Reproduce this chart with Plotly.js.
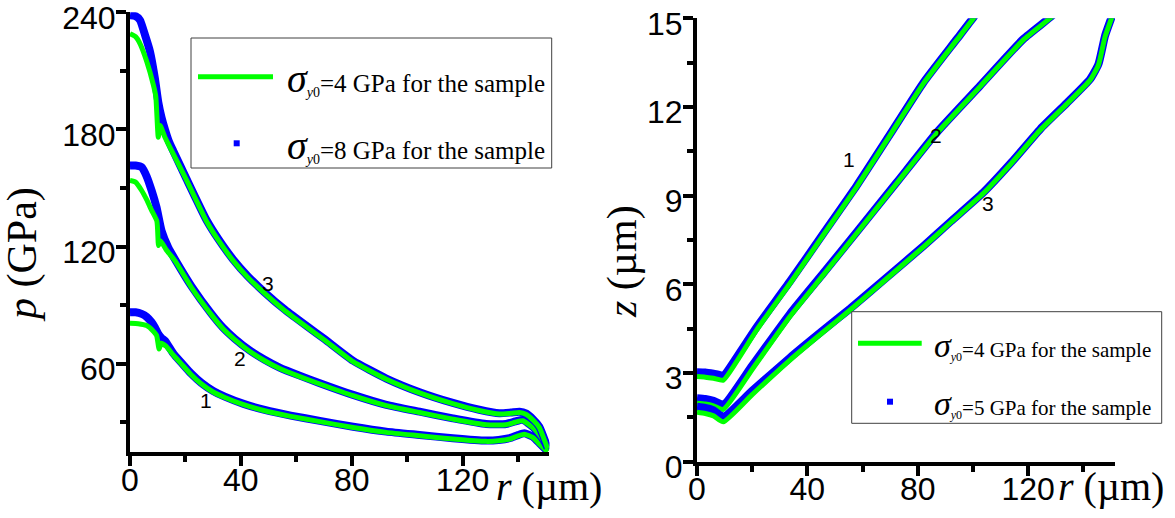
<!DOCTYPE html>
<html><head><meta charset="utf-8">
<script src="https://cdn.plot.ly/plotly-3.0.1.min.js"></script>
<style>html,body{margin:0;padding:0;background:#fff;}#chart{width:1175px;height:518px;}</style>
</head><body><div id="chart"></div>
<script>
// ---------- Left panel: p (GPa) vs r (µm) ----------
// curve 1, σy0 = 4 GPa (green line)
const L1_r4 = [0, 3, 6, 8.5, 9.6, 10.5, 11.3, 13, 15.6, 18.6, 22, 25.8, 30, 34.2, 41, 48.6, 58, 68.5, 80.5, 92.5, 104.5, 116.5, 128.5, 133, 137, 140, 142.3, 145.3, 148, 150.7];
const L1_p4 = [80.7, 80.5, 79.5, 76.5, 74.5, 67.5, 70.5, 69, 64.5, 59.8, 54.5, 49.6, 45.5, 42.7, 39, 35.9, 33, 30.3, 27.3, 24.8, 23.1, 21.4, 20.2, 20.5, 21.4, 23, 23.9, 22.2, 18.5, 14.8];
// curve 1, σy0 = 8 GPa (blue dots)
const L1_r8 = [0, 2, 4.2, 6, 7.8, 9, 10.2, 11.5, 12.6, 15.6, 18.6, 22, 25.8, 30, 34.2, 41, 48.6, 58, 68.5, 80.5, 92.5, 104.5, 116.5, 128.5, 133, 137, 140, 142.3, 145.3, 148, 150.7];
const L1_p8 = [86.3, 86.3, 85.5, 84, 81.2, 78.5, 75.2, 73, 71.8, 65.3, 60.4, 55, 50.1, 46, 43.1, 39.4, 36.3, 33.4, 30.7, 27.7, 25.2, 23.5, 21.8, 20.6, 20.9, 21.8, 23.4, 24.3, 22.6, 18.9, 15.1];
// curve 2
const L2_r4 = [0, 2, 4.2, 6, 7.8, 9.7, 10.3, 11, 13, 16.2, 22.2, 29.4, 33.5, 37.8, 43, 48.6, 54, 61, 68.5, 80.5, 92.5, 104.5, 116.5, 128.5, 135.7, 139, 141.7, 145.3, 148.5, 150.7];
const L2_p4 = [153.8, 153, 148.7, 144, 138.5, 133, 120.5, 123, 118.5, 112.8, 99, 85, 78, 72.3, 66.5, 61.5, 57.5, 53.5, 49.6, 43.6, 38.5, 35, 31.6, 28.7, 28.7, 30, 30.8, 27.3, 22, 17];
const L2_r8 = [0, 2, 4.2, 6, 7.8, 9.6, 11.4, 13.8, 16.2, 22.2, 29.4, 33.5, 37.8, 43, 48.6, 54, 61, 68.5, 80.5, 92.5, 104.5, 116.5, 128.5, 135.7, 139, 141.7, 145.3, 148.5, 150.7];
const L2_p8 = [161.5, 161.5, 160.7, 156, 148.7, 140, 128, 119.5, 113.5, 99.6, 85.5, 78.5, 72.8, 67, 62, 58, 54, 50, 44, 38.9, 35.4, 32, 29.1, 29.1, 30.4, 31.2, 27.7, 22.4, 17.4];
// curve 3
const L3_r4 = [0, 2, 3.6, 6, 8.4, 9.3, 10.2, 10.9, 12.6, 15.6, 20.4, 27.6, 32, 37.2, 42.5, 48.6, 56, 64, 70.3, 80.5, 92.5, 104.5, 116.5, 126, 133.3, 137.5, 140.5, 143, 145.5, 147.7, 150.7];
const L3_p4 = [229, 227.5, 224, 215, 203, 197, 176, 182, 176, 167.5, 154, 133, 123, 112.8, 104.2, 96, 87, 78.5, 72, 61, 52, 45, 39.5, 36, 34.2, 34.6, 35, 34, 31, 27.3, 16.4];
const L3_r8 = [0, 2, 3.6, 5.5, 7.2, 9, 10.2, 11.4, 12.6, 14, 15.6, 20.4, 27.6, 32, 37.2, 42.5, 48.6, 56, 64, 70.3, 80.5, 92.5, 104.5, 116.5, 126, 133.3, 137.5, 140.5, 143, 145.5, 147.7, 150.7];
const L3_p8 = [238.5, 238, 236, 228, 220, 206, 194, 186, 180, 174, 169, 154.6, 133.6, 123.6, 113.4, 104.8, 96.5, 87.5, 79, 72.5, 61.5, 52.4, 45.4, 39.9, 36.4, 34.6, 35, 35.4, 34.4, 31.4, 27.7, 16.8];

// ---------- Right panel: z (µm) vs r (µm) ----------
const R1_r4 = [0, 3, 6, 9.55, 15, 21.6, 33.7, 45.8, 57.9, 70, 82.1, 94.2, 100.2, 102];
const R1_z4 = [2.88, 2.86, 2.82, 2.76, 3.48, 4.45, 6.03, 7.67, 9.30, 11.05, 12.80, 14.27, 15.0, 15.25];
const R1_r5 = [0, 3, 6, 9.55, 15, 21.6, 33.7, 45.8, 57.9, 70, 82.1, 94.2, 100.2, 102];
const R1_z5 = [3.03, 3.02, 2.98, 2.92, 3.62, 4.55, 6.10, 7.72, 9.34, 11.08, 12.83, 14.30, 15.03, 15.28];
const R2_r4 = [0, 3, 6, 9.55, 20, 33.7, 45.8, 57.9, 72.4, 86.9, 102.6, 118.3, 128.6, 130];
const R2_z4 = [1.98, 1.95, 1.89, 1.77, 3.12, 4.91, 6.32, 7.73, 9.42, 11.11, 12.69, 14.27, 15.05, 15.2];
const R2_r5 = [0, 3, 6, 9.55, 20, 33.7, 45.8, 57.9, 72.4, 86.9, 102.6, 118.3, 128.6, 130];
const R2_z5 = [2.15, 2.12, 2.06, 1.93, 3.25, 5.0, 6.38, 7.77, 9.45, 11.14, 12.72, 14.30, 15.08, 15.23];
const R3_r4 = [0, 3, 6, 9.55, 20, 33.7, 45, 55.5, 68, 82.1, 92, 103.8, 114, 124.4, 134, 142.5, 145.5, 147.9, 150.4, 151];
const R3_z4 = [1.67, 1.63, 1.55, 1.35, 2.27, 3.44, 4.33, 5.13, 6.13, 7.27, 8.1, 9.08, 10.1, 11.22, 12.1, 12.91, 13.42, 14.38, 15.05, 15.3];
const R3_r5 = [0, 3, 6, 9.55, 20, 33.7, 45, 55.5, 68, 82.1, 92, 103.8, 114, 124.4, 134, 142.5, 145.5, 147.9, 150.4, 151];
const R3_z5 = [1.86, 1.82, 1.74, 1.52, 2.4, 3.52, 4.39, 5.18, 6.17, 7.3, 8.13, 9.11, 10.13, 11.25, 12.13, 12.94, 13.45, 14.41, 15.08, 15.33];

// curve labels
const curveLabels = ['1', '2', '3'];
const leftLabelR = [27.4, 39.6, 49.8], leftLabelP = [41.0, 62.4, 100.9];
const rightLabelR = [55.1, 86.5, 105.4], rightLabelZ = [10.24, 11.02, 8.72];

const legendLeft = ['=4 GPa for the sample', '=8 GPa for the sample'];
const legendRight = ['=4 GPa for the sample', '=5 GPa for the sample'];

// ---------- layout helpers ----------
const W = 1175, H = 518;
const fx = v => v / W, fy = v => 1 - v / H;
const GREEN = '#00ff00', BLUE = '#0000ff';

const traces = [];
function addPair(r5, v5, r4, v4, xa, ya) {
  traces.push({x: r5, y: v5, xaxis: xa, yaxis: ya, mode: 'lines', line: {color: BLUE, width: 8, shape: 'spline', smoothing: 0.5}, showlegend: false, hoverinfo: 'skip'});
  traces.push({x: r4, y: v4, xaxis: xa, yaxis: ya, mode: 'lines', line: {color: GREEN, width: 5, shape: 'spline', smoothing: 0.5}, showlegend: false, hoverinfo: 'skip'});
}
addPair(L1_r8, L1_p8, L1_r4, L1_p4, 'x', 'y');
addPair(L2_r8, L2_p8, L2_r4, L2_p4, 'x', 'y');
addPair(L3_r8, L3_p8, L3_r4, L3_p4, 'x', 'y');
addPair(R1_r5, R1_z5, R1_r4, R1_z4, 'x2', 'y2');
addPair(R2_r5, R2_z5, R2_r4, R2_z4, 'x2', 'y2');
addPair(R3_r5, R3_z5, R3_r4, R3_z4, 'x2', 'y2');

const tickFont = {family: 'Liberation Sans, Arial, sans-serif', size: 32, color: '#000'};
function axis(domain, range, dtick, minorDtick, standoff, shift) {
  return {
    domain: domain, range: range, dtick: dtick, tick0: 0,
    showline: true, linewidth: 4, linecolor: '#000',
    ticks: 'outside', ticklen: 10, tickwidth: 4, tickcolor: '#000',
    minor: {dtick: minorDtick, ticks: 'outside', ticklen: 6, tickwidth: 4, tickcolor: '#000', showgrid: false},
    showgrid: false, zeroline: false, tickfont: tickFont, fixedrange: true,
    ticklabeloverflow: 'allow', ticklabelstandoff: standoff, ticklabelshift: shift
  };
}

const serif = 'Liberation Serif, Times New Roman, serif';
const annotations = [];
curveLabels.forEach((t, i) => {
  annotations.push({x: leftLabelR[i], y: leftLabelP[i], xref: 'x', yref: 'y', text: t, showarrow: false,
    font: {family: 'Liberation Sans, Arial', size: 21, color: '#000'}});
  annotations.push({x: rightLabelR[i], y: rightLabelZ[i], xref: 'x2', yref: 'y2', text: t, showarrow: false,
    font: {family: 'Liberation Sans, Arial', size: 21, color: '#000'}});
});
// axis titles
function pa(x, y, text, size, xanchor, angle) {
  return {x: fx(x), y: fy(y), xref: 'paper', yref: 'paper', xanchor: xanchor, yanchor: 'middle', text: text,
    textangle: angle, showarrow: false, font: {family: serif, size: size, color: '#000'}};
}
annotations.push(pa(22, 255, '<i>p</i> (GPa)', 42, 'center', -90));
annotations.push(pa(622, 262, '<i>z</i> (µm)', 42, 'center', -90));
annotations.push(pa(494, 486, '<i>r</i> (µm)', 40, 'left', 0));
annotations.push(pa(1056, 486, '<i>r</i> (µm)', 40, 'left', 0));

// legends (drawn with shapes + text)
function legendText(label, sigmaSize, subSize) {
  return '<span style="font-size:' + sigmaSize + 'px"><i>σ</i></span><sub><span style="font-size:' + subSize + 'px"><i>y</i>0</span></sub>' + label;
}
function la(x, y, text, size) {
  return {x: fx(x), y: fy(y), xref: 'paper', yref: 'paper', xanchor: 'left', yanchor: 'middle', text: text,
    showarrow: false, font: {family: serif, size: size, color: '#000'}};
}
annotations.push(la(285, 78, legendText(legendLeft[0], 40, 14), 25));
annotations.push(la(285, 145, legendText(legendLeft[1], 40, 14), 25));
annotations.push(la(932, 345, legendText(legendRight[0], 34, 12), 21));
annotations.push(la(932, 403, legendText(legendRight[1], 34, 12), 21));

const shapes = [
  {type: 'rect', xref: 'paper', yref: 'paper', x0: fx(191), x1: fx(551.7), y0: fy(168), y1: fy(38), line: {color: '#404040', width: 1}, fillcolor: '#fff', layer: 'above'},
  {type: 'line', xref: 'paper', yref: 'paper', x0: fx(198), x1: fx(273), y0: fy(76.7), y1: fy(76.7), line: {color: GREEN, width: 5}, layer: 'above'},
  {type: 'rect', xref: 'paper', yref: 'paper', x0: fx(233.7), x1: fx(239.7), y0: fy(146.3), y1: fy(140.3), line: {width: 0}, fillcolor: BLUE, layer: 'above'},
  {type: 'rect', xref: 'paper', yref: 'paper', x0: fx(851.7), x1: fx(1161.7), y0: fy(423.3), y1: fy(311.7), line: {color: '#404040', width: 1}, fillcolor: '#fff', layer: 'above'},
  {type: 'line', xref: 'paper', yref: 'paper', x0: fx(858), x1: fx(921.7), y0: fy(343.3), y1: fy(343.3), line: {color: GREEN, width: 5}, layer: 'above'},
  {type: 'rect', xref: 'paper', yref: 'paper', x0: fx(887), x1: fx(893), y0: fy(404.7), y1: fy(398.7), line: {width: 0}, fillcolor: BLUE, layer: 'above'}
];

const layout = {
  width: W, height: H,
  margin: {l: 0, r: 0, t: 0, b: 0},
  paper_bgcolor: '#fff', plot_bgcolor: '#fff',
  showlegend: false,
  xaxis: Object.assign(axis([fx(130), fx(549.3)], [0, 151.3], 40, 20, -14, 0), {anchor: 'y'}),
  yaxis: Object.assign(axis([fy(452.3), fy(12.3)], [14.6, 240], 60, 30, -6, 5), {anchor: 'x'}),
  xaxis2: Object.assign(axis([fx(697), fx(1115)], [0, 151.5], 40, 20, -14, 0), {anchor: 'y2'}),
  yaxis2: Object.assign(axis([fy(461.7), fy(18.3)], [0, 15], 3, 1.5, -6, 5), {anchor: 'x2'}),
  annotations: annotations,
  shapes: shapes
};

Plotly.newPlot('chart', traces, layout, {displayModeBar: false, staticPlot: true});
</script>
</body></html>
